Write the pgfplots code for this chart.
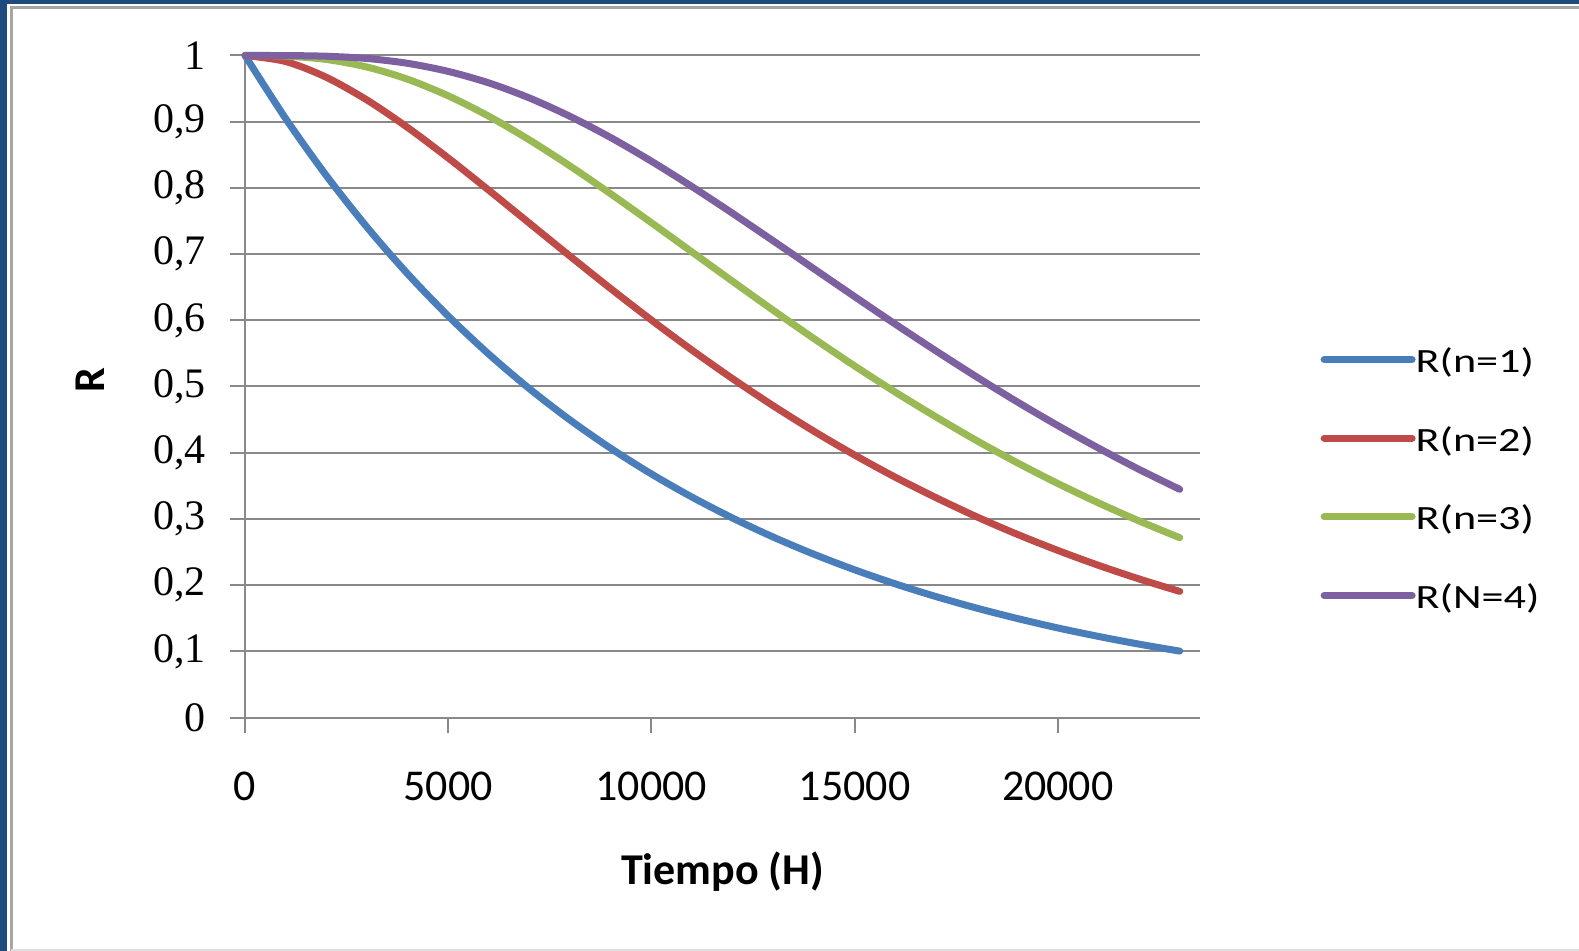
\documentclass[border=0pt]{standalone}
\usepackage{fontspec}
\setmainfont{Carlito}
\newfontfamily\serifnum{Liberation Serif}
\newfontfamily\legfont[FakeStretch=1.3]{Carlito}
\usepackage{pgfplots}
\usepackage{pgfplotstable}
\pgfplotsset{compat=1.18}
\definecolor{bord}{HTML}{1F4A7E}
\definecolor{gridc}{HTML}{898989}
\definecolor{c1}{HTML}{4A7EBB}
\definecolor{c2}{HTML}{BE4B48}
\definecolor{c3}{HTML}{98B954}
\definecolor{c4}{HTML}{7D60A0}
\pgfplotstableread{
t r1 r2 r3 r4
0 1 1 1 1
1000 0.9048 0.9909 0.9991 0.9999
2000 0.8187 0.9671 0.9940 0.9989
3000 0.7408 0.9328 0.9826 0.9955
4000 0.6703 0.8913 0.9642 0.9882
5000 0.6065 0.8452 0.9391 0.9760
6000 0.5488 0.7964 0.9082 0.9586
7000 0.4966 0.7466 0.8724 0.9358
8000 0.4493 0.6968 0.8330 0.9080
9000 0.4066 0.6478 0.7910 0.8760
10000 0.3679 0.6004 0.7474 0.8403
11000 0.3329 0.5549 0.7031 0.8019
12000 0.3012 0.5117 0.6588 0.7615
13000 0.2725 0.4708 0.6150 0.7199
14000 0.2466 0.4324 0.5724 0.6778
15000 0.2231 0.3965 0.5311 0.6358
16000 0.2019 0.3630 0.4916 0.5943
17000 0.1827 0.3322 0.4542 0.5539
18000 0.1653 0.3033 0.4184 0.5146
19000 0.1496 0.2768 0.3849 0.4769
20000 0.1353 0.2524 0.3535 0.4410
21000 0.1225 0.2299 0.3242 0.4070
22000 0.1108 0.2093 0.2969 0.3748
23000 0.1003 0.1905 0.2716 0.3447
}\data
\begin{document}
\begin{tikzpicture}
\path[use as bounding box, fill=white] (0,0) rectangle (789.5pt,-475.5pt);
\fill[bord] (0,0) rectangle (3.5pt,-475.5pt);
\fill[bord] (0,0) rectangle (789.5pt,-2pt);
\draw[gray!70, line width=1.5pt] (5.5pt,-475.5pt) -- (5.5pt,-3.75pt) -- (789.5pt,-3.75pt);
\draw[gray!25, line width=0.8pt] (5.5pt,-475pt) -- (789.5pt,-475pt);
\begin{axis}[
  at={(122.5pt,-358.75pt)}, anchor=south west,
  scale only axis, width=477.5pt, height=331pt,
  xmin=0, xmax=23500, ymin=0, ymax=1,
  axis lines*=left,
  axis line style={draw=gridc, line width=1pt},
  ymajorgrids, grid style={draw=gridc, line width=1pt},
  xtick={0,5000,10000,15000,20000},
  ytick={0,0.1,0.2,0.3,0.4,0.5,0.6,0.7,0.8,0.9,1},
  scaled x ticks=false,
  tick align=outside, major tick length=7.5pt,
  tick style={draw=gridc, line width=1pt},
  yticklabel style={font=\serifnum\fontsize{21pt}{24pt}\selectfont, anchor=east, xshift=-8.5pt,
    /pgf/number format/fixed, /pgf/number format/precision=1,
    /pgf/number format/use comma, /pgf/number format/assume math mode=true},
  xticklabel style={font=\fontsize{22pt}{26pt}\selectfont, yshift=-16pt,
    /pgf/number format/1000 sep={}, /pgf/number format/assume math mode=true},
  xlabel={\textbf{Tiempo (H)}}, ylabel={\textbf{R}},
  every axis x label/.style={at={(axis description cs:0.5,-0.2335)}, anchor=center, font=\fontsize{22pt}{26pt}\selectfont},
  every axis y label/.style={at={(axis description cs:-0.1623,0.51)}, anchor=center, rotate=90, font=\fontsize{22pt}{26pt}\selectfont},
  legend style={draw=none, fill=none, inner sep=0pt, outer sep=0pt,
    at={(axis description cs:1.1263,0.3550)}, anchor=west,
    row sep=23.3pt, font=\legfont\fontsize{17pt}{20pt}\selectfont,
    nodes={inner sep=0pt, text height=12pt, text depth=4pt}},
  legend cell align=left,
  legend image code/.code={\draw[#1, line width=3.5pt, line cap=round] (0pt,2.5pt) -- (44pt,2.5pt);},
  every axis plot/.append style={line width=3.5pt, line cap=round, line join=round, no markers},
  clip=false,
]
\addplot[c1, smooth] table[x=t, y=r1] {\data};
\addplot[c2, smooth] table[x=t, y=r2] {\data};
\addplot[c3, smooth] table[x=t, y=r3] {\data};
\addplot[c4, smooth] table[x=t, y=r4] {\data};
\legend{R(n=1), R(n=2), R(n=3), R(N=4)}
\end{axis}
\end{tikzpicture}
\end{document}
